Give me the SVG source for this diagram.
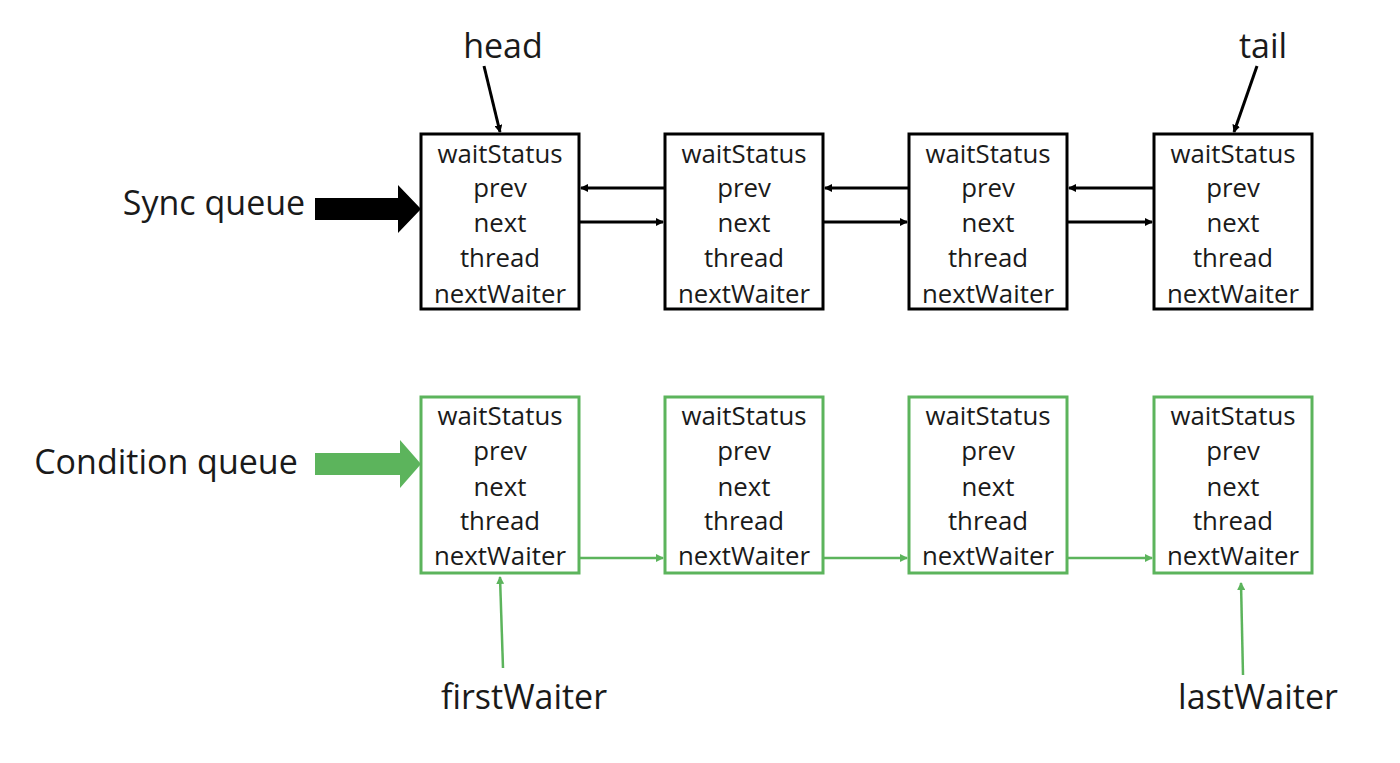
<svg xmlns="http://www.w3.org/2000/svg" width="1400" height="763" viewBox="0 0 1400 763">
<style>
text{font-family:"Open Sans","Noto Sans","Liberation Sans",sans-serif;fill:#1a1a1a;text-anchor:middle}
.f{font-size:25.8px}
.lbl{font-size:34px}
.sb{fill:#fff;stroke:#000;stroke-width:3}
.cb{fill:#fff;stroke:#5cb45c;stroke-width:3}
.sl{stroke:#000;stroke-width:3;fill:none}
.cl{stroke:#5cb45c;stroke-width:2.5;fill:none}
</style>
<defs>
<marker id="ab" markerWidth="8" markerHeight="8" refX="7" refY="4" orient="auto" markerUnits="userSpaceOnUse"><path d="M0,0 L8,4 L0,8 Z" fill="#000"/></marker>
<marker id="ag" markerWidth="8" markerHeight="8" refX="7" refY="4" orient="auto" markerUnits="userSpaceOnUse"><path d="M0,0 L8,4 L0,8 Z" fill="#5cb45c"/></marker>
</defs>
<rect width="1400" height="763" fill="#fff"/>
<g id="sync-label"><text class="lbl" x="214" y="215">Sync queue</text>
<path d="M315,198 L398,198 L398,185 L421,209 L398,233 L398,220 L315,220 Z" fill="#000"/></g>
<g id="cond-label"><text class="lbl" x="166" y="474">Condition queue</text>
<path d="M315,453 L400,453 L400,440 L421,464 L400,488 L400,475 L315,475 Z" fill="#5cb45c"/></g>
<g id="head"><text class="lbl" x="503" y="58">head</text></g>
<g id="tail"><text class="lbl" x="1263" y="58">tail</text></g>
<g id="firstWaiter"><text class="lbl" x="524" y="709">firstWaiter</text></g>
<g id="lastWaiter"><text class="lbl" x="1258" y="709">lastWaiter</text></g>
<g id="s1"><rect class="sb" x="421" y="134" width="158" height="175"/><text class="f" x="500" y="163">waitStatus</text><text class="f" x="500" y="197">prev</text><text class="f" x="500" y="232">next</text><text class="f" x="500" y="267">thread</text><text class="f" x="500" y="303">nextWaiter</text></g>
<g id="s2"><rect class="sb" x="665" y="134" width="158" height="175"/><text class="f" x="744" y="163">waitStatus</text><text class="f" x="744" y="197">prev</text><text class="f" x="744" y="232">next</text><text class="f" x="744" y="267">thread</text><text class="f" x="744" y="303">nextWaiter</text></g>
<g id="s3"><rect class="sb" x="909" y="134" width="158" height="175"/><text class="f" x="988" y="163">waitStatus</text><text class="f" x="988" y="197">prev</text><text class="f" x="988" y="232">next</text><text class="f" x="988" y="267">thread</text><text class="f" x="988" y="303">nextWaiter</text></g>
<g id="s4"><rect class="sb" x="1154" y="134" width="158" height="175"/><text class="f" x="1233" y="163">waitStatus</text><text class="f" x="1233" y="197">prev</text><text class="f" x="1233" y="232">next</text><text class="f" x="1233" y="267">thread</text><text class="f" x="1233" y="303">nextWaiter</text></g>
<g id="c1"><rect class="cb" x="421" y="397" width="158" height="176"/><text class="f" x="500" y="425">waitStatus</text><text class="f" x="500" y="460">prev</text><text class="f" x="500" y="496">next</text><text class="f" x="500" y="530">thread</text><text class="f" x="500" y="565">nextWaiter</text></g>
<g id="c2"><rect class="cb" x="665" y="397" width="158" height="176"/><text class="f" x="744" y="425">waitStatus</text><text class="f" x="744" y="460">prev</text><text class="f" x="744" y="496">next</text><text class="f" x="744" y="530">thread</text><text class="f" x="744" y="565">nextWaiter</text></g>
<g id="c3"><rect class="cb" x="909" y="397" width="158" height="176"/><text class="f" x="988" y="425">waitStatus</text><text class="f" x="988" y="460">prev</text><text class="f" x="988" y="496">next</text><text class="f" x="988" y="530">thread</text><text class="f" x="988" y="565">nextWaiter</text></g>
<g id="c4"><rect class="cb" x="1154" y="397" width="158" height="176"/><text class="f" x="1233" y="425">waitStatus</text><text class="f" x="1233" y="460">prev</text><text class="f" x="1233" y="496">next</text><text class="f" x="1233" y="530">thread</text><text class="f" x="1233" y="565">nextWaiter</text></g>
<g id="connectors">
<line class="sl" x1="484" y1="66" x2="500" y2="132" marker-end="url(#ab)"/>
<line class="sl" x1="1257" y1="66" x2="1234" y2="132" marker-end="url(#ab)"/>
<line class="sl" x1="665" y1="188" x2="581" y2="188" marker-end="url(#ab)"/>
<line class="sl" x1="579" y1="222" x2="663" y2="222" marker-end="url(#ab)"/>
<line class="sl" x1="909" y1="188" x2="825" y2="188" marker-end="url(#ab)"/>
<line class="sl" x1="823" y1="222" x2="907" y2="222" marker-end="url(#ab)"/>
<line class="sl" x1="1154" y1="188" x2="1069" y2="188" marker-end="url(#ab)"/>
<line class="sl" x1="1067" y1="222" x2="1152" y2="222" marker-end="url(#ab)"/>
<line class="cl" x1="579" y1="558" x2="663" y2="558" marker-end="url(#ag)"/>
<line class="cl" x1="823" y1="558" x2="907" y2="558" marker-end="url(#ag)"/>
<line class="cl" x1="1067" y1="558" x2="1152" y2="558" marker-end="url(#ag)"/>
<line class="cl" x1="503" y1="668" x2="500" y2="577" marker-end="url(#ag)"/>
<line class="cl" x1="1243" y1="675" x2="1241" y2="583" marker-end="url(#ag)"/>
</g>
</svg>
